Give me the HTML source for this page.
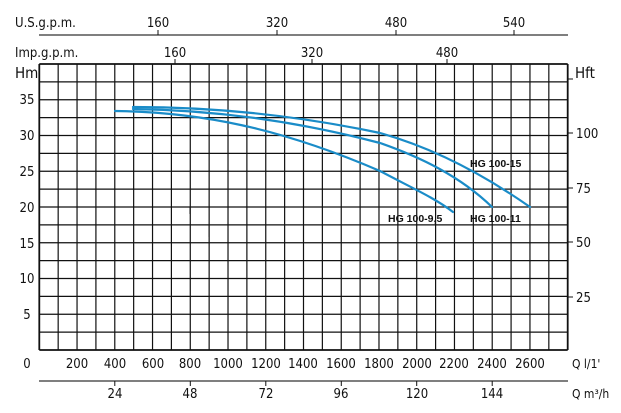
<!DOCTYPE html>
<html><head><meta charset="utf-8"><style>
body{margin:0;background:#fff;}
svg{display:block;font-family:"DejaVu Sans Condensed","Liberation Sans",sans-serif;}
</style></head><body>
<svg width="621" height="413" viewBox="0 0 621 413" xmlns="http://www.w3.org/2000/svg">
<g stroke="#111" stroke-width="1.3" fill="none" id="grid"></g>
<script>
(function(){
var g=document.getElementById('grid'),ns='http://www.w3.org/2000/svg';
function L(x1,y1,x2,y2,w){var l=document.createElementNS(ns,'line');l.setAttribute('x1',x1);l.setAttribute('y1',y1);l.setAttribute('x2',x2);l.setAttribute('y2',y2);if(w)l.setAttribute('stroke-width',w);g.appendChild(l);}
var x0=39.3,dx=(567.7-39.3)/28;
for(var i=0;i<=28;i++){var x=x0+i*dx;L(x,64,x,350,(i==0||i==28)?1.8:1.2);}
var dy=(350-64)/16;
for(var j=0;j<=16;j++){var y=64+j*dy;L(x0,y,567.7,y,(j==0||j==16)?1.8:1.3);}
})();
</script>
<g stroke="#555" stroke-width="1.6">
<line x1="39" y1="35" x2="568" y2="35"/>
<line x1="39" y1="381" x2="568" y2="381"/>
</g>
<g stroke="#111" stroke-width="1">
<line x1="158" y1="35" x2="158" y2="30"/>
<line x1="277" y1="35" x2="277" y2="30"/>
<line x1="396" y1="35" x2="396" y2="30"/>
<line x1="514" y1="35" x2="514" y2="30"/>
<line x1="175" y1="64" x2="175" y2="59"/>
<line x1="312" y1="64" x2="312" y2="59"/>
<line x1="447" y1="64" x2="447" y2="59"/>
<line x1="114.8" y1="381" x2="114.8" y2="386"/>
<line x1="190.3" y1="381" x2="190.3" y2="386"/>
<line x1="265.8" y1="381" x2="265.8" y2="386"/>
<line x1="341.3" y1="381" x2="341.3" y2="386"/>
<line x1="416.7" y1="381" x2="416.7" y2="386"/>
<line x1="492.2" y1="381" x2="492.2" y2="386"/>
<line x1="568" y1="79" x2="573" y2="79"/>
<line x1="568" y1="133" x2="573" y2="133"/>
<line x1="568" y1="188" x2="573" y2="188"/>
<line x1="568" y1="242" x2="573" y2="242"/>
<line x1="568" y1="297" x2="573" y2="297"/>
<line x1="190" y1="207" x2="190" y2="214"/>
<line x1="211" y1="225" x2="226" y2="225"/>
<line x1="209" y1="225" x2="209" y2="237"/>
</g>
<g fill="#111" font-size="13">
<text x="15" y="27">U.S.g.p.m.</text>
<text x="158" y="27" text-anchor="middle">160</text>
<text x="277" y="27" text-anchor="middle">320</text>
<text x="396" y="27" text-anchor="middle">480</text>
<text x="514" y="27" text-anchor="middle">540</text>
<text x="15" y="57">Imp.g.p.m.</text>
<text x="175" y="57" text-anchor="middle">160</text>
<text x="312" y="57" text-anchor="middle">320</text>
<text x="447" y="57" text-anchor="middle">480</text>
<text x="15" y="78" font-size="15">Hm</text>
<text x="575" y="78" font-size="15">Hft</text>
<g text-anchor="middle">
<text x="27" y="104">35</text><text x="27" y="140">30</text><text x="27" y="176">25</text>
<text x="27" y="212">20</text><text x="27" y="248">15</text><text x="27" y="283">10</text>
<text x="27" y="319">5</text><text x="27" y="368">0</text>
</g>
<text x="576" y="138">100</text><text x="576" y="193">75</text>
<text x="576" y="247">50</text><text x="576" y="302">25</text>
<g text-anchor="middle">
<text x="77" y="368">200</text><text x="115" y="368">400</text><text x="153" y="368">600</text>
<text x="190" y="368">800</text><text x="228" y="368">1000</text><text x="266" y="368">1200</text>
<text x="303" y="368">1400</text><text x="341" y="368">1600</text><text x="379" y="368">1800</text>
<text x="417" y="368">2000</text><text x="454" y="368">2200</text><text x="492" y="368">2400</text>
<text x="530" y="368">2600</text>
<text x="115" y="398">24</text><text x="190" y="398">48</text><text x="266" y="398">72</text>
<text x="341" y="398">96</text><text x="417" y="398">120</text><text x="492" y="398">144</text>
</g>
<text x="572" y="368" font-size="12">Q l/1'</text>
<text x="572" y="398" font-size="12">Q m³/h</text>
</g>
<g fill="none" stroke="#1a8cc8" stroke-width="2.2" stroke-linejoin="round" stroke-linecap="round">
<path d="M133,107 C220,107 300,116 380,133 C430,147 480,172 530,207"/>
<path d="M133,109 C220,110 300,122 380,143 C420,157 460,176 492,207"/>
<path d="M115,111 C200,112 280,128 380,171 C410,187 435,198 453,212"/>
</g>
<g fill="#111" font-size="10.5" font-weight="bold" font-family="'Liberation Sans',sans-serif">
<text x="470" y="167">HG 100-15</text>
<text x="470" y="222">HG 100-11</text>
<text x="388" y="222">HG 100-9,5</text>
</g>
</svg>
</body></html>
